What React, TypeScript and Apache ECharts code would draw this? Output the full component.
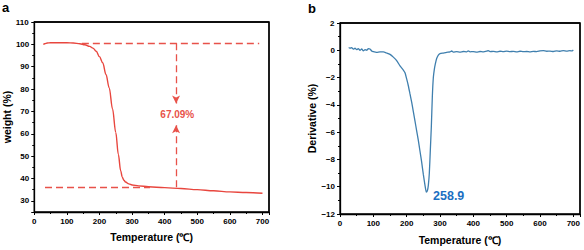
import React, { useEffect, useRef } from "react";
import * as echarts from "echarts";

// ---- data ----
const tgaTemp = [28, 32, 40, 50, 70, 100, 120, 140, 155, 170, 180, 190, 200, 210, 220, 230, 240, 250, 258, 265, 270, 275, 280, 290, 300, 320, 350, 400, 450, 500, 550, 600, 650, 700];
const tgaWeight = [99.9, 100.3, 100.6, 100.7, 100.7, 100.7, 100.6, 100.3, 99.8, 99.1, 98.3, 96.9, 94.5, 91.8, 86.5, 80.5, 71.2, 60.6, 50.7, 43.5, 40.6, 39.2, 38.4, 37.6, 37.1, 36.7, 36.3, 35.9, 35.5, 35.0, 34.5, 34.0, 33.7, 33.4];

const dtgTemp = [26, 30, 35, 40, 45, 50, 55, 60, 65, 70, 75, 80, 85, 90, 95, 100, 110, 120, 130, 140, 150, 160, 170, 180, 190, 195, 200, 205, 210, 215, 220, 225, 230, 235, 240, 245, 250, 255, 258.9, 262, 265, 268, 271, 274, 277, 280, 283, 286, 290, 295, 300, 310, 320, 330, 335, 340, 350, 360, 370, 380, 385, 390, 400, 410, 420, 430, 440, 445, 450, 460, 470, 480, 490, 500, 510, 520, 530, 540, 550, 560, 570, 580, 590, 600, 610, 620, 630, 640, 650, 660, 670, 680, 690, 695, 700];
const dtgDeriv = [0.2, 0.15, 0.2, 0.08, 0.15, 0.05, 0.12, 0.0, 0.1, -0.05, 0.05, 0.0, 0.12, 0.1, -0.05, -0.1, -0.15, -0.12, -0.12, -0.2, -0.3, -0.5, -0.75, -1.15, -1.45, -1.65, -2.1, -2.6, -3.2, -3.8, -4.5, -5.2, -5.9, -6.6, -7.4, -8.2, -9.1, -9.9, -10.4, -10.3, -9.9, -9.0, -7.3, -5.6, -3.4, -2.0, -1.4, -1.0, -0.6, -0.35, -0.25, -0.2, -0.15, -0.12, -0.05, -0.14, -0.1, -0.13, -0.09, -0.12, -0.04, -0.11, -0.1, -0.13, -0.09, -0.12, -0.07, -0.02, -0.1, -0.08, -0.12, -0.07, -0.1, -0.06, -0.1, -0.08, -0.11, -0.07, -0.1, -0.09, -0.12, -0.08, -0.1, -0.05, -0.02, -0.07, -0.06, -0.09, -0.04, -0.07, -0.03, -0.06, -0.02, -0.05, 0.03];

const tempRange = [0, 720];
const weightRange = [25, 110];
const derivRange = [-12, 2];

const massLoss = 67.09;
const upperLevel = 100.5;
const lowerLevel = 35.9;
const annotTemp = 435;
const peakTemp = 258.9;
const peakDeriv = -10.4;

const RED = "#e8463e";
const RED_ANN = "#e8524a";
const BLUE = "#3f7fae";
const FONT = "Liberation Sans";

const tickLabel = {
  fontSize: 8,
  fontWeight: "bold" as const,
  fontFamily: FONT,
  color: "#000",
};

const nameStyle = {
  fontSize: 10.5,
  fontWeight: "bold" as const,
  fontFamily: FONT,
  color: "#000",
};

const minus = (v: number) => String(v).replace("-", "\u2212");

const axisLineStyle = { show: true, onZero: false, lineStyle: { color: "#000", width: 1.3 } };
const tickStyle = { show: true, length: 3, lineStyle: { color: "#000", width: 1 } };
const minorStyle = { show: true, splitNumber: 2, length: 2, lineStyle: { color: "#000", width: 1 } };

function tempAxis(grid: number, nameGap: number) {
  return {
    type: "value",
    gridIndex: grid,
    min: tempRange[0],
    max: tempRange[1],
    splitNumber: 7,
    position: "bottom",
    name: "Temperature (\u2103)",
    nameLocation: "middle",
    nameGap,
    nameTextStyle: nameStyle,
    axisLine: axisLineStyle,
    axisTick: tickStyle,
    minorTick: minorStyle,
    axisLabel: { margin: 5, showMaxLabel: false, ...tickLabel },
    splitLine: { show: false },
    minorSplitLine: { show: false },
  };
}

// Top and right edges of a panel's frame, drawn as a line series through the panel's scales,
// together with the label of the top tick.
function frameSeries(idx: number, yRange: number[], topLabel: string) {
  return {
    type: "line",
    xAxisIndex: idx,
    yAxisIndex: idx,
    data: [
      [tempRange[0], yRange[1]],
      [tempRange[1], yRange[1]],
      [tempRange[1], yRange[0]],
    ],
    showSymbol: false,
    clip: false,
    silent: true,
    z: 5,
    lineStyle: { color: "#000", width: 1.3 },
    itemStyle: { color: "#000" },
    markPoint: {
      silent: true,
      symbol: "rect",
      symbolSize: 1,
      itemStyle: { color: "rgba(0,0,0,0)" },
      label: {
        show: true,
        position: "left",
        distance: 5,
        formatter: (p: any) => p.name,
        ...tickLabel,
      },
      data: [{ name: topLabel, coord: [tempRange[0], yRange[1]] }],
    },
  };
}

export default function App() {
  const ref = useRef<HTMLDivElement>(null);

  useEffect(() => {
    document.body.style.margin = "0";
    if (!ref.current) return;
    const chart = echarts.init(ref.current, undefined, { renderer: "svg" });

    const option = {
      animation: false,
      graphic: [
        { type: "text", left: 2, top: 1, style: { text: "a", fontSize: 13, fontWeight: "bold", fontFamily: FONT, fill: "#000" } },
        { type: "text", left: 308, top: 2, style: { text: "b", fontSize: 13, fontWeight: "bold", fontFamily: FONT, fill: "#000" } },
      ],
      grid: [
        { left: 34, top: 22, width: 235, height: 190, show: true, borderColor: "#000", borderWidth: 1.3 },
        { left: 340, top: 23, width: 240, height: 195, show: true, borderColor: "#000", borderWidth: 1.3 },
      ],
      xAxis: [tempAxis(0, 19), tempAxis(1, 20)],
      yAxis: [
        {
          type: "value",
          gridIndex: 0,
          min: weightRange[0],
          max: weightRange[1],
          splitNumber: 9,
          position: "left",
          name: "weight (%)",
          nameLocation: "middle",
          nameGap: 20,
          nameTextStyle: nameStyle,
          axisLine: axisLineStyle,
          axisTick: tickStyle,
          minorTick: minorStyle,
          axisLabel: { margin: 5, showMinLabel: false, showMaxLabel: false, ...tickLabel },
          splitLine: { show: false },
          minorSplitLine: { show: false },
        },
        {
          type: "value",
          gridIndex: 1,
          min: derivRange[0],
          max: derivRange[1],
          interval: 2,
          position: "left",
          name: "Derivative (%)",
          nameLocation: "middle",
          nameGap: 21,
          nameTextStyle: nameStyle,
          axisLine: axisLineStyle,
          axisTick: tickStyle,
          minorTick: minorStyle,
          axisLabel: { margin: 5, formatter: minus, showMaxLabel: false, ...tickLabel },
          splitLine: { show: false },
          minorSplitLine: { show: false },
        },
      ],
      series: [
        {
          type: "line",
          xAxisIndex: 0,
          yAxisIndex: 0,
          data: tgaTemp.map((t, i) => [t, tgaWeight[i]]),
          showSymbol: false,
          smooth: 0.35,
          smoothMonotone: "x",
          lineStyle: { color: RED, width: 1.4 },
          itemStyle: { color: RED },
          markLine: {
            silent: true,
            symbol: ["none", "none"],
            label: { show: false },
            lineStyle: { color: RED_ANN, width: 1.3, type: [7, 4] },
            data: [
              [{ coord: [146, upperLevel] }, { coord: [690, upperLevel] }],
              [{ coord: [33, lowerLevel] }, { coord: [355, lowerLevel] }],
              [
                { coord: [annotTemp, upperLevel] },
                { coord: [annotTemp, 73.5], symbol: "arrow", symbolSize: [6, 8] },
              ],
              [
                { coord: [annotTemp, 63.8], symbol: "arrow", symbolSize: [6, 8] },
                { coord: [annotTemp, 35.6] },
              ],
            ],
          },
          markPoint: {
            silent: true,
            symbol: "rect",
            symbolSize: 1,
            itemStyle: { color: "rgba(0,0,0,0)" },
            label: {
              show: true,
              position: "inside",
              formatter: `${massLoss.toFixed(2)}%`,
              color: RED_ANN,
              fontSize: 10,
              fontWeight: "bold",
              fontFamily: FONT,
            },
            data: [{ coord: [438.7, 68.7] }],
          },
        },
        {
          type: "line",
          xAxisIndex: 1,
          yAxisIndex: 1,
          data: dtgTemp.map((t, i) => [t, dtgDeriv[i]]),
          showSymbol: false,
          smooth: 0.2,
          lineStyle: { color: BLUE, width: 1.3 },
          itemStyle: { color: BLUE },
          markPoint: {
            silent: true,
            symbol: "rect",
            symbolSize: 1,
            itemStyle: { color: "rgba(0,0,0,0)" },
            label: {
              show: true,
              position: "inside",
              formatter: `${peakTemp}`,
              color: "#1b6fc2",
              fontSize: 12.5,
              fontWeight: "bold",
              fontFamily: FONT,
            },
            data: [{ coord: [326, peakDeriv - 0.26] }],
          },
        },
        frameSeries(0, weightRange, String(weightRange[1])),
        frameSeries(1, derivRange, minus(derivRange[1])),
      ],
    };

    chart.setOption(option as any);
    return () => chart.dispose();
  }, []);

  return <div ref={ref} style={{ width: 584, height: 250 }} />;
}
